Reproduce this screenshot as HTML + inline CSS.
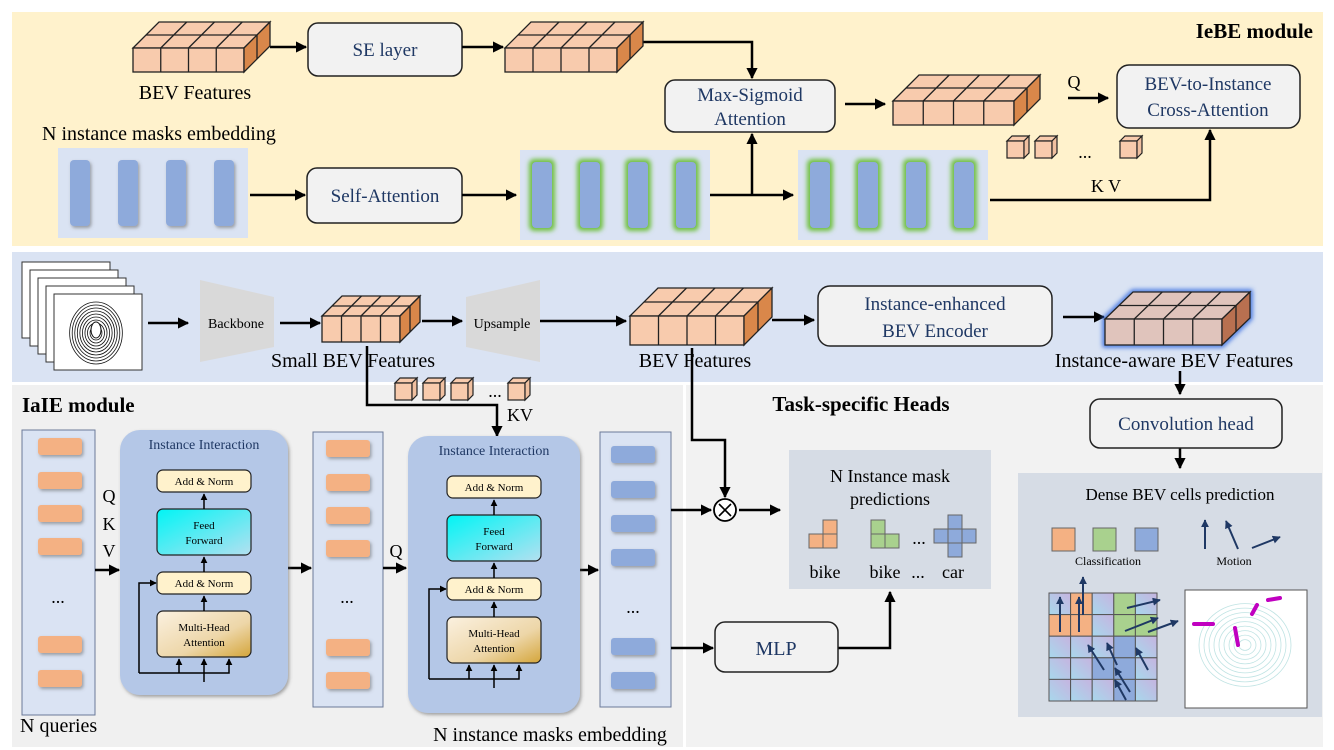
<!DOCTYPE html>
<html><head><meta charset="utf-8"><style>
html,body{margin:0;padding:0;background:#fff;}
svg{display:block;font-family:"Liberation Serif",serif;}
</style></head><body>
<svg id="s" width="1334" height="750" viewBox="0 0 1334 750" xmlns="http://www.w3.org/2000/svg">
<defs>
<marker id="a" viewBox="0 0 10 10" refX="9" refY="5" markerWidth="4.5" markerHeight="4.5" orient="auto"><path d="M0,0L10,5L0,10z" fill="#000"/></marker>
<marker id="an" viewBox="0 0 10 10" refX="9" refY="5" markerWidth="4" markerHeight="4" orient="auto"><path d="M0,0L10,5L0,10z" fill="#1f3864"/></marker>
<linearGradient id="ff" x1="0" y1="0" x2="1" y2="1"><stop offset="0" stop-color="#00f5f5"/><stop offset="1" stop-color="#b4e0f0"/></linearGradient>
<linearGradient id="mh" x1="0" y1="0" x2="1" y2="1"><stop offset="0" stop-color="#fbf1e0"/><stop offset="0.6" stop-color="#edd6a8"/><stop offset="1" stop-color="#d4a53a"/></linearGradient>
<linearGradient id="cell" x1="0" y1="1" x2="1" y2="0"><stop offset="0" stop-color="#a8d8ec"/><stop offset="1" stop-color="#c6b4e0"/></linearGradient>
<filter id="glow" x="-50%" y="-20%" width="200%" height="140%"><feGaussianBlur stdDeviation="2.5"/></filter>
<filter id="sh" x="-20%" y="-20%" width="150%" height="160%"><feDropShadow dx="1.5" dy="2" stdDeviation="1.5" flood-color="#555" flood-opacity="0.5"/></filter>
</defs>
<!-- panels -->
<rect x="12" y="12" width="1311" height="234" fill="#fff2cc"/>
<rect x="12" y="252" width="1311" height="130" fill="#dae3f3"/>
<rect x="12" y="385" width="671" height="362" fill="#f0f0f0"/>
<rect x="686" y="385" width="637" height="362" fill="#f2f2f2"/>
<polygon points="200,280 274,297 274,347 200,362" fill="#d9d9d9"/>
<polygon points="466,297 540,280 540,362 466,347" fill="#d9d9d9"/>

<!-- top texts -->
<text x="1313" y="38" text-anchor="end" font-size="21" font-weight="bold">IeBE module</text>
<text x="195" y="99" text-anchor="middle" font-size="20">BEV Features</text>
<text x="42" y="140" font-size="20">N instance masks embedding</text>
<rect x="308" y="23" width="154" height="53" rx="10" fill="#f2f2f2" stroke="#222" stroke-width="1.5"/>
<text x="385" y="56" text-anchor="middle" font-size="19" fill="#1f3864">SE layer</text>
<rect x="665" y="80" width="170" height="52" rx="10" fill="#f2f2f2" stroke="#222" stroke-width="1.5"/>
<text x="750" y="101" text-anchor="middle" font-size="19" fill="#1f3864">Max-Sigmoid</text>
<text x="750" y="125" text-anchor="middle" font-size="19" fill="#1f3864">Attention</text>
<rect x="307" y="168" width="155" height="55" rx="10" fill="#f2f2f2" stroke="#222" stroke-width="1.5"/>
<text x="385" y="202" text-anchor="middle" font-size="19" fill="#1f3864">Self-Attention</text>
<rect x="1117" y="65" width="183" height="63" rx="12" fill="#f2f2f2" stroke="#222" stroke-width="1.5"/>
<text x="1208" y="90" text-anchor="middle" font-size="19" fill="#1f3864">BEV-to-Instance</text>
<text x="1208" y="116" text-anchor="middle" font-size="19" fill="#1f3864">Cross-Attention</text>
<text x="1074" y="88" text-anchor="middle" font-size="18">Q</text>
<text x="1085" y="158" text-anchor="middle" font-size="18">...</text>
<text x="1106" y="192" text-anchor="middle" font-size="18">K V</text>
<g stroke="#000" stroke-width="2.5" fill="none">
<path d="M270,47H306" marker-end="url(#a)"/>
<path d="M462,47H503" marker-end="url(#a)"/>
<path d="M643,42H752V78" marker-end="url(#a)"/>
<path d="M845,104H885" marker-end="url(#a)"/>
<path d="M1068,98H1108" marker-end="url(#a)"/>
<path d="M250,195H305" marker-end="url(#a)"/>
<path d="M462,195H516" marker-end="url(#a)"/>
<path d="M710,195H793" marker-end="url(#a)"/>
<path d="M752,195V134" marker-end="url(#a)"/>
<path d="M990,200H1210V130" marker-end="url(#a)"/>
</g>

<!-- middle band -->
<text x="236" y="328" text-anchor="middle" font-size="14">Backbone</text>
<text x="502" y="328" text-anchor="middle" font-size="14">Upsample</text>
<text x="353" y="367" text-anchor="middle" font-size="20">Small BEV Features</text>
<text x="695" y="367" text-anchor="middle" font-size="20">BEV Features</text>
<text x="1174" y="367" text-anchor="middle" font-size="20">Instance-aware BEV Features</text>
<rect x="818" y="286" width="234" height="60" rx="12" fill="#f2f2f2" stroke="#222" stroke-width="1.5"/>
<text x="935" y="310" text-anchor="middle" font-size="19" fill="#1f3864">Instance-enhanced</text>
<text x="935" y="337" text-anchor="middle" font-size="19" fill="#1f3864">BEV Encoder</text>
<g stroke="#000" stroke-width="2.5" fill="none">
<path d="M148,323H188" marker-end="url(#a)"/>
<path d="M280,323H320" marker-end="url(#a)"/>
<path d="M422,321H462" marker-end="url(#a)"/>
<path d="M540,321H626" marker-end="url(#a)"/>
<path d="M772,320H814" marker-end="url(#a)"/>
<path d="M1063,317H1104" marker-end="url(#a)"/>
<path d="M1180,371V394" marker-end="url(#a)"/>
<path d="M367,346V405H497V436" marker-end="url(#a)"/>
<path d="M692,348V440H725V497" marker-end="url(#a)"/>
</g>

<!-- IaIE -->
<text x="22" y="412" font-size="21" font-weight="bold">IaIE module</text>
<text x="495" y="397" text-anchor="middle" font-size="18">...</text>
<text x="520" y="421" text-anchor="middle" font-size="18">KV</text>
<rect x="22" y="430" width="73" height="285" fill="#dae3f3" stroke="#6b7a99" stroke-width="1"/>
<rect x="313" y="432" width="70" height="275" fill="#dae3f3" stroke="#6b7a99" stroke-width="1"/>
<rect x="600" y="432" width="71" height="275" fill="#dae3f3" stroke="#6b7a99" stroke-width="1"/>
<text x="58" y="603" text-anchor="middle" font-size="18">...</text>
<text x="347" y="603" text-anchor="middle" font-size="18">...</text>
<text x="633" y="613" text-anchor="middle" font-size="18">...</text>
<text x="109" y="502" text-anchor="middle" font-size="18">Q</text>
<text x="109" y="530" text-anchor="middle" font-size="18">K</text>
<text x="109" y="557" text-anchor="middle" font-size="18">V</text>
<text x="396" y="557" text-anchor="middle" font-size="18">Q</text>
<text x="20" y="732" font-size="20">N queries</text>
<text x="550" y="741" text-anchor="middle" font-size="20">N instance masks embedding</text>
<g stroke="#000" stroke-width="2.5" fill="none">
<path d="M95,570H119" marker-end="url(#a)"/>
<path d="M288,568H311" marker-end="url(#a)"/>
<path d="M383,568H406" marker-end="url(#a)"/>
<path d="M580,570H598" marker-end="url(#a)"/>
<path d="M671,510H711" marker-end="url(#a)"/>
<path d="M739,510H780" marker-end="url(#a)"/>
<path d="M671,648H713" marker-end="url(#a)"/>
<path d="M838,648H890V592" marker-end="url(#a)"/>
<path d="M1180,448V468" marker-end="url(#a)"/>
</g>

<!-- task heads -->
<text x="861" y="411" text-anchor="middle" font-size="21" font-weight="bold">Task-specific Heads</text>
<circle cx="725" cy="510" r="11" fill="#fff" stroke="#000" stroke-width="1.8"/>
<path d="M719,504L731,516M731,504L719,516" stroke="#000" stroke-width="1.6"/>
<rect x="789" y="450" width="202" height="139" fill="#d6dce5"/>
<text x="890" y="482" text-anchor="middle" font-size="18">N Instance mask</text>
<text x="890" y="505" text-anchor="middle" font-size="18">predictions</text>
<text x="825" y="578" text-anchor="middle" font-size="18">bike</text>
<text x="885" y="578" text-anchor="middle" font-size="18">bike</text>
<text x="918" y="578" text-anchor="middle" font-size="18">...</text>
<text x="953" y="578" text-anchor="middle" font-size="18">car</text>
<text x="919" y="544" text-anchor="middle" font-size="18">...</text>
<rect x="715" y="622" width="123" height="50" rx="10" fill="#f2f2f2" stroke="#222" stroke-width="1.5"/>
<text x="776" y="655" text-anchor="middle" font-size="20" fill="#1f3864">MLP</text>
<rect x="1090" y="399" width="192" height="49" rx="10" fill="#f2f2f2" stroke="#222" stroke-width="1.5"/>
<text x="1186" y="430" text-anchor="middle" font-size="19" fill="#1f3864">Convolution head</text>
<rect x="1018" y="473" width="304" height="244" fill="#d6dce5"/>
<text x="1180" y="500" text-anchor="middle" font-size="17">Dense BEV cells prediction</text>
<text x="1108" y="565" text-anchor="middle" font-size="12">Classification</text>
<text x="1234" y="565" text-anchor="middle" font-size="12">Motion</text>
<g id="shapes"></g>
</svg>
<script>
var NS="http://www.w3.org/2000/svg";
var G=document.getElementById("shapes");
function el(p,t,a){var e=document.createElementNS(NS,t);for(var k in a)e.setAttribute(k,a[k]);p.appendChild(e);return e;}
function cube(x,y,w,h,d,dx,glow){
 var fw=w-dx, g=el(G,"g",{stroke:"#222","stroke-width":"1.3"});
 var fc=glow?"#e0c4bc":"#f8cbad", sc=glow?"#b87050":"#d9874a";
 if(glow){el(g,"polygon",{points:[x,y+d,x+dx,y,x+w,y,x+w,y+h-d,x+fw,y+h,x,y+h].join(","),fill:"none",stroke:"#3a70e0","stroke-width":"5",filter:"url(#glow)"});}
 el(g,"polygon",{points:[x,y+d,x+dx,y,x+w,y,x+fw,y+d].join(","),fill:fc});
 el(g,"rect",{x:x,y:y+d,width:fw,height:h-d,fill:fc});
 el(g,"polygon",{points:[x+fw,y+d,x+w,y,x+w,y+h-d,x+fw,y+h].join(","),fill:sc});
 for(var i=1;i<4;i++){var cx=x+fw*i/4;el(g,"line",{x1:cx,y1:y+d,x2:cx,y2:y+h});
  el(g,"line",{x1:cx,y1:y+d,x2:cx+dx,y2:y});}
 el(g,"line",{x1:x+dx/2,y1:y+d/2,x2:x+w-dx/2,y2:y+d/2});
 el(g,"line",{x1:x+fw+dx/2,y1:y+d/2,x2:x+fw+dx/2,y2:y+h-d/2});
}
function tok(x,y){var g=el(G,"g",{stroke:"#222","stroke-width":"1.2"});
 el(g,"polygon",{points:[x,y+5,x+5,y,x+22,y,x+17,y+5].join(","),fill:"#f8cbad"});
 el(g,"rect",{x:x,y:y+5,width:17,height:17,fill:"#f8cbad"});
 el(g,"polygon",{points:[x+17,y+5,x+22,y,x+22,y+17,x+17,y+22].join(","),fill:"#f0c0a0"});}
cube(133,22,137,50,26,26);
cube(505,22,138,50,26,26);
cube(893,75,147,50,26,26);
cube(322,296,98,46,20,20);
cube(630,288,142,57,28,28);
cube(1105,292,145,53,27,28,true);
[1007,1035,1120].forEach(function(x){tok(x,136);});
[395,423,451,508].forEach(function(x){tok(x,378);});
function bars(bx,by,glow){el(G,"rect",{x:bx,y:by,width:190,height:90,fill:"#dae3f3"});
 [12,60,108,156].forEach(function(o){var x=bx+o,y=by+12;
  if(glow)el(G,"rect",{x:x-3,y:y-3,width:26,height:72,rx:5,fill:"#70c040",filter:"url(#glow)"});
  el(G,"rect",{x:x,y:y,width:20,height:66,rx:4,fill:"#8eaadb",filter:glow?"":"url(#sh)"});});}
bars(58,148,false);bars(520,150,true);bars(798,150,true);
for(var i=0;i<5;i++){el(G,"rect",{x:22+i*8,y:262+i*8,width:88,height:76,fill:"#fff",stroke:"#333","stroke-width":"1"});}
var lg=el(G,"g",{stroke:"#111",fill:"none","stroke-width":"0.8"});
for(var r=4;r<32;r+=3)el(lg,"ellipse",{cx:96,cy:333,rx:r*0.85,ry:r});
el(G,"ellipse",{cx:96,cy:330,rx:5,ry:8,fill:"#fff",stroke:"#111"});
function cb(x,ys,c){ys.forEach(function(y){el(G,"rect",{x:x,y:y,width:44,height:17,rx:3,fill:c,filter:"url(#sh)"});});}
function ii(x,y,w,h){var g=G;
 el(g,"rect",{x:x,y:y,width:w,height:h,rx:20,fill:"#b4c7e7",filter:"url(#sh)"});
 var t=el(g,"text",{x:x+w/2,y:y+19,"text-anchor":"middle","font-size":"14",fill:"#1f3864"});t.textContent="Instance Interaction";
 var bx=x+(w-94)/2;
 function box(yy,hh,f,l1,l2){el(g,"rect",{x:bx,y:yy,width:94,height:hh,rx:6,fill:f,stroke:"#222","stroke-width":"1.2"});
  var t1=el(g,"text",{x:bx+47,y:l2?yy+hh/2-3:yy+hh/2+4,"text-anchor":"middle","font-size":"11"});t1.textContent=l1;
  if(l2){var t2=el(g,"text",{x:bx+47,y:yy+hh/2+12,"text-anchor":"middle","font-size":"11"});t2.textContent=l2;}}
 box(y+40,22,"#fff2cc","Add & Norm");
 box(y+79,46,"url(#ff)","Feed","Forward");
 box(y+142,22,"#fff2cc","Add & Norm");
 box(y+181,46,"url(#mh)","Multi-Head","Attention");
 var cx=bx+47,ls=el(g,"g",{stroke:"#000","stroke-width":"1.5",fill:"none"});
 [[y+79,y+62],[y+142,y+125],[y+181,y+164]].forEach(function(p){el(ls,"path",{d:"M"+cx+","+p[0]+"V"+(p[1]+2),"marker-end":"url(#a)"});});
 el(ls,"path",{d:"M"+cx+","+(y+252)+"V"+(y+229),"marker-end":"url(#a)"});
 el(ls,"path",{d:"M"+(bx-18)+","+(y+243)+"H"+(cx+25)+"V"+(y+229),"marker-end":"url(#a)"});
 el(ls,"path",{d:"M"+(cx-25)+","+(y+243)+"V"+(y+229),"marker-end":"url(#a)"});
 el(ls,"path",{d:"M"+(bx-18)+","+(y+243)+"V"+(y+153)+"H"+(bx-1),"marker-end":"url(#a)"});
}
ii(120,430,168,265);ii(408,436,172,277);
cb(38,[438,472,505,538,636,670],"#f4b183");
cb(326,[440,474,507,540,639,672],"#f4b183");
cb(611,[446,481,515,549,638,672],"#8eaadb");
function sq(x,y,c,s){el(G,"rect",{x:x,y:y,width:s,height:s,fill:c,stroke:"#666","stroke-width":"1"});}
var s=14;
sq(823,520,"#f4b183",s);sq(809,534,"#f4b183",s);sq(823,534,"#f4b183",s);
sq(871,520,"#a9d18e",s);sq(871,534,"#a9d18e",s);sq(885,534,"#a9d18e",s);
sq(948,515,"#8eaadb",s);sq(934,529,"#8eaadb",s);sq(948,529,"#8eaadb",s);sq(962,529,"#8eaadb",s);sq(948,543,"#8eaadb",s);
sq(1052,528,"#f4b183",23);sq(1093,528,"#a9d18e",23);sq(1135,528,"#8eaadb",23);
var cs=21.6;
var colors={"0,1":"#f4b183","1,0":"#f4b183","1,1":"#f4b183","0,3":"#a9d18e","1,3":"#a9d18e","1,4":"#a9d18e","2,3":"#8eaadb","3,2":"#8eaadb","3,3":"#8eaadb","4,3":"#8eaadb"};
for(var r=0;r<5;r++)for(var c=0;c<5;c++){el(G,"rect",{x:1049+c*cs,y:593+r*cs,width:cs,height:cs,fill:colors[r+","+c]||"url(#cell)",stroke:"#555","stroke-width":"1"});}
el(G,"rect",{x:1185,y:590,width:122,height:118,fill:"#fff",stroke:"#555","stroke-width":"1"});
var lc=el(G,"g",{stroke:"#bfe3e3",fill:"none","stroke-width":"0.8"});
for(var r=6;r<50;r+=5)el(lc,"ellipse",{cx:1245,cy:645,rx:r,ry:r*0.9});
var mg=el(G,"g",{stroke:"#c000c0","stroke-width":"4","stroke-linecap":"round"});
[[1194,624,1213,624],[1235,628,1238,645],[1252,614,1257,605],[1268,600,1280,598]].forEach(function(p){el(mg,"line",{x1:p[0],y1:p[1],x2:p[2],y2:p[3]});});
var ar=el(G,"g",{stroke:"#1f3864","stroke-width":"2",fill:"none"});
[[1205,549,1205,520],[1238,549,1226,521],[1252,548,1280,537],[1060,632,1060,597],[1079,632,1079,597],[1083,615,1083,577],
 [1127,608,1160,600],[1125,631,1158,618],[1148,632,1178,621],[1104,670,1088,645],[1117,665,1107,643],[1130,692,1115,668],[1148,670,1136,648],[1126,700,1115,680]].forEach(function(p){el(ar,"line",{x1:p[0],y1:p[1],x2:p[2],y2:p[3],"marker-end":"url(#an)"});});
</script>
</body></html>
